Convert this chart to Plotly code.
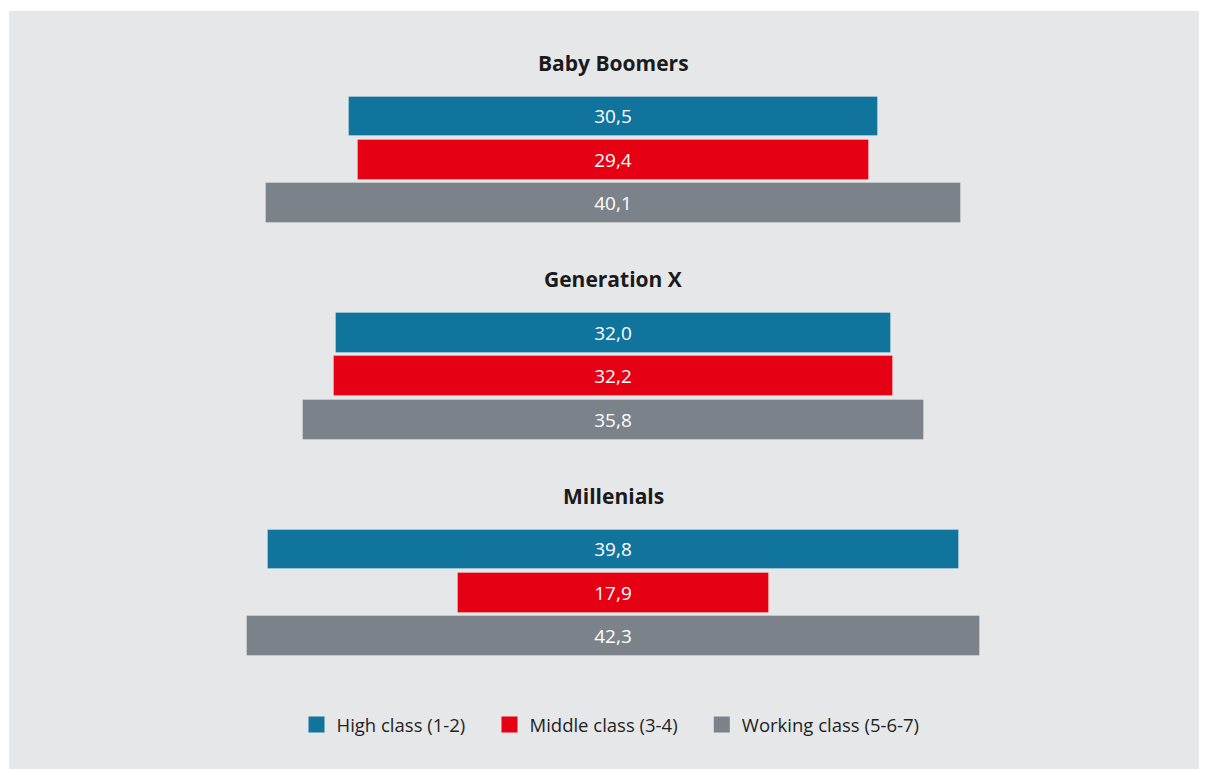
import plotly.graph_objects as go

generations = ["Baby Boomers", "Generation X", "Millenials"]
classes = ["High class (1-2)", "Middle class (3-4)", "Working class (5-6-7)"]
high = [30.5, 32.0, 39.8]
middle = [29.4, 32.2, 17.9]
working = [40.1, 35.8, 42.3]
colors = ["#10749d", "#e60013", "#7c828a"]

series = [high, middle, working]
GROUP_STEP = 5
BG = "#e6e7e9"
PAD = "\u00a0" * 4

fig = go.Figure()
for ci, (name, vals, col) in enumerate(zip(classes, series, colors)):
    ys = [gi * GROUP_STEP + ci for gi in range(len(generations))]
    fig.add_trace(go.Bar(
        orientation="h",
        x=vals,
        base=[-v / 2 for v in vals],
        y=ys,
        width=0.92,
        marker=dict(color=col, line=dict(color="rgba(255,255,255,0.25)", width=1)),
        text=[f"{v:.1f}".replace(".", ",") for v in vals],
        textposition="inside",
        insidetextanchor="middle",
        textfont=dict(color="white", size=19, family="Open Sans"),
        showlegend=False,
        hoverinfo="skip",
    ))
    fig.add_trace(go.Scatter(
        x=[None], y=[None], mode="markers",
        name=name + (PAD if ci < len(classes) - 1 else ""),
        marker=dict(symbol="square", size=18, color=col),
        showlegend=True,
    ))

for gi, g in enumerate(generations):
    fig.add_annotation(
        x=0, y=gi * GROUP_STEP - 1.245, xref="x", yref="y",
        text=f"<b>{g}</b>", showarrow=False,
        font=dict(size=21, color="#1a1a1a", family="Open Sans"),
    )

PLOT_W = 1206
PLOT_H = 766
# white strips outside the grey panel (top and left margins)
fig.add_shape(type="rect", xref="paper", yref="paper", x0=-0.01, x1=1.01,
              y0=1, y1=1 + 4 / PLOT_H, fillcolor="white", line_width=0, layer="below")
fig.add_shape(type="rect", xref="paper", yref="paper", x0=-1.5 / PLOT_W, x1=0,
              y0=-0.01, y1=1.01, fillcolor="white", line_width=0, layer="below")

fig.update_layout(
    width=1207, height=769,
    margin=dict(l=1, r=0, t=3, b=0, pad=0),
    paper_bgcolor=BG,
    plot_bgcolor=BG,
    barmode="overlay",
    bargap=0,
    xaxis=dict(range=[-34.84, 34.67], visible=False, fixedrange=True),
    yaxis=dict(range=[15.254, -2.436], visible=False, fixedrange=True),
    legend=dict(
        orientation="h", x=287.5 / PLOT_W, xanchor="left",
        y=1 - 714 / PLOT_H, yanchor="middle",
        bgcolor="rgba(0,0,0,0)", borderwidth=0,
        font=dict(size=18.5, color="#1f1f1f", family="Open Sans"),
        itemsizing="trace",
    ),
    font=dict(family="Open Sans"),
)

fig.write_html("out.html")
